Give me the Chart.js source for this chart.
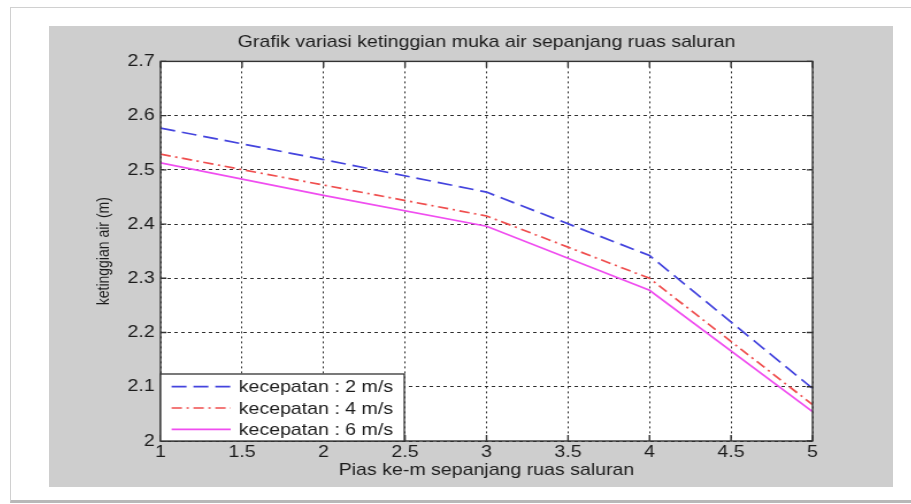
<!DOCTYPE html>
<html lang="id">
<head>
  <meta charset="UTF-8" />
  <title>Grafik variasi ketinggian muka air</title>
  <script src="https://cdn.jsdelivr.net/npm/chart.js"></script>
  <style>
    html, body {
      margin: 0;
      padding: 0;
      background: #fff;
      overflow: hidden;
      width: 911px;
      height: 504px;
    }
    .frame {
      position: absolute;
      left: 10px;
      top: 7px;
      width: 920px;
      height: 492px;
      border: 1px solid #d0d0d0;
      border-bottom: 3px solid #b8b8b8;
    }
    .panel {
      position: absolute;
      left: 49px;
      top: 26px;
      width: 844px;
      height: 461px;
      background: #cecece;
    }
    #chart {
      position: absolute;
      left: 49px;
      top: 26px;
    }
  </style>
</head>
<body>
  <div class="frame"></div>
  <div class="panel"></div>
  <!-- the original picture is stretched sideways, so the canvas is too -->
  <canvas id="chart" width="734" height="461" style="width:844px;height:461px"></canvas>
  <script>
    // Pias ke-m (x) and water height per velocity
    const pias = [1, 2, 3, 4, 5];
    const v2 = [2.577, 2.519, 2.459, 2.342, 2.097];
    const v4 = [2.529, 2.472, 2.415, 2.300, 2.067];
    const v6 = [2.513, 2.453, 2.396, 2.278, 2.054];
    const seriesLabels = ['kecepatan : 2 m/s', 'kecepatan : 4 m/s', 'kecepatan : 6 m/s'];
    const xTicks = [1, 1.5, 2, 2.5, 3, 3.5, 4, 4.5, 5];
    const yTicks = [2, 2.1, 2.2, 2.3, 2.4, 2.5, 2.6, 2.7];

    const toPoints = ys => pias.map((x, i) => ({ x: x, y: ys[i] }));
    const fmt = v => String(+v.toFixed(1));

    Chart.defaults.font.family = '"Liberation Sans", Arial, sans-serif';
    Chart.defaults.color = '#1c1c1c';

    // white plot area, inward tick marks, box and legend like matlab
    const matlabLook = {
      id: 'matlabLook',
      beforeDraw(chart) {
        const { ctx, chartArea: a } = chart;
        ctx.save();
        ctx.fillStyle = '#fff';
        ctx.fillRect(a.left, a.top, a.right - a.left, a.bottom - a.top);
        ctx.restore();
      },
      afterDraw(chart) {
        const { ctx, chartArea: a, scales } = chart;
        ctx.save();
        ctx.strokeStyle = '#333';
        ctx.lineWidth = 1.4;
        ctx.beginPath();
        scales.y.ticks.forEach(t => {
          const py = scales.y.getPixelForValue(t.value);
          ctx.moveTo(a.left, py); ctx.lineTo(a.left + 5, py);
          ctx.moveTo(a.right, py); ctx.lineTo(a.right - 5, py);
        });
        scales.x.ticks.forEach(t => {
          const px = scales.x.getPixelForValue(t.value);
          ctx.moveTo(px, a.bottom); ctx.lineTo(px, a.bottom - 6);
          ctx.moveTo(px, a.top); ctx.lineTo(px, a.top + 6);
        });
        ctx.stroke();
        ctx.strokeRect(a.left, a.top, a.right - a.left, a.bottom - a.top);

        // legend in the lower left corner
        const w = 212, h = 67, lx = a.left, ly = a.bottom - h;
        ctx.fillStyle = '#fff';
        ctx.fillRect(lx, ly, w, h);
        ctx.lineWidth = 1.3;
        ctx.strokeStyle = '#333';
        ctx.strokeRect(lx, ly, w, h);
        chart.data.datasets.forEach((ds, i) => {
          const ry = ly + 12.7 + i * 21.3;
          ctx.strokeStyle = ds.borderColor;
          ctx.lineWidth = ds.borderWidth;
          ctx.setLineDash(ds.borderDash || []);
          ctx.beginPath();
          ctx.moveTo(lx + 9.6, ry);
          ctx.lineTo(lx + 61, ry);
          ctx.stroke();
          ctx.setLineDash([]);
          ctx.fillStyle = '#1c1c1c';
          ctx.font = '17px "Liberation Sans", Arial, sans-serif';
          ctx.textBaseline = 'middle';
          ctx.textAlign = 'left';
          ctx.fillText(ds.label, lx + 68, ry + 1);
        });
        ctx.restore();
      }
    };

    new Chart(document.getElementById('chart'), {
      type: 'line',
      data: {
        datasets: [
          {
            label: seriesLabels[0],
            data: toPoints(v2),
            borderColor: '#4444de',
            borderWidth: 1.7,
            borderDash: [13, 6]
          },
          {
            label: seriesLabels[1],
            data: toPoints(v4),
            borderColor: '#f04e4e',
            borderWidth: 1.7,
            borderDash: [9, 4, 2, 4]
          },
          {
            label: seriesLabels[2],
            data: toPoints(v6),
            borderColor: '#f04ef0',
            borderWidth: 1.7
          }
        ]
      },
      options: {
        responsive: false,
        animation: false,
        devicePixelRatio: 1,
        elements: { point: { radius: 0 }, line: { tension: 0 } },
        layout: { padding: { left: 40, right: 70, top: 6, bottom: 6 } },
        plugins: {
          legend: { display: false },
          tooltip: { enabled: false },
          title: {
            display: true,
            fullSize: false,
            text: 'Grafik variasi ketinggian muka air sepanjang ruas saluran',
            color: '#1c1c1c',
            font: { size: 17, weight: 'normal' },
            padding: { top: 0, bottom: 9 }
          }
        },
        scales: {
          x: {
            type: 'linear',
            min: 1,
            max: 5,
            afterBuildTicks: s => { s.ticks = xTicks.map(v => ({ value: v })); },
            afterFit: s => { s.height = 40; },
            ticks: { callback: fmt, maxRotation: 0, padding: 1, font: { size: 17 }, color: '#1c1c1c' },
            grid: { color: '#2e2e2e', lineWidth: 1, drawTicks: false },
            border: { display: false, dash: [2, 3] },
            title: {
              display: true,
              text: 'Pias ke-m sepanjang ruas saluran',
              font: { size: 17 },
              color: '#1c1c1c',
              padding: 0
            }
          },
          y: {
            min: 2,
            max: 2.7,
            afterBuildTicks: s => { s.ticks = yTicks.map(v => ({ value: v })); },
            afterFit: s => { s.width = 57; },
            ticks: { callback: fmt, padding: 5, font: { size: 17 }, color: '#1c1c1c' },
            grid: { color: '#2e2e2e', lineWidth: 1, drawTicks: false },
            border: { display: false, dash: [3, 3] },
            title: {
              display: true,
              text: 'ketinggian air (m)',
              font: { size: 14 },
              color: '#1c1c1c',
              padding: 0
            }
          }
        }
      },
      plugins: [matlabLook]
    });
  </script>
</body>
</html>
